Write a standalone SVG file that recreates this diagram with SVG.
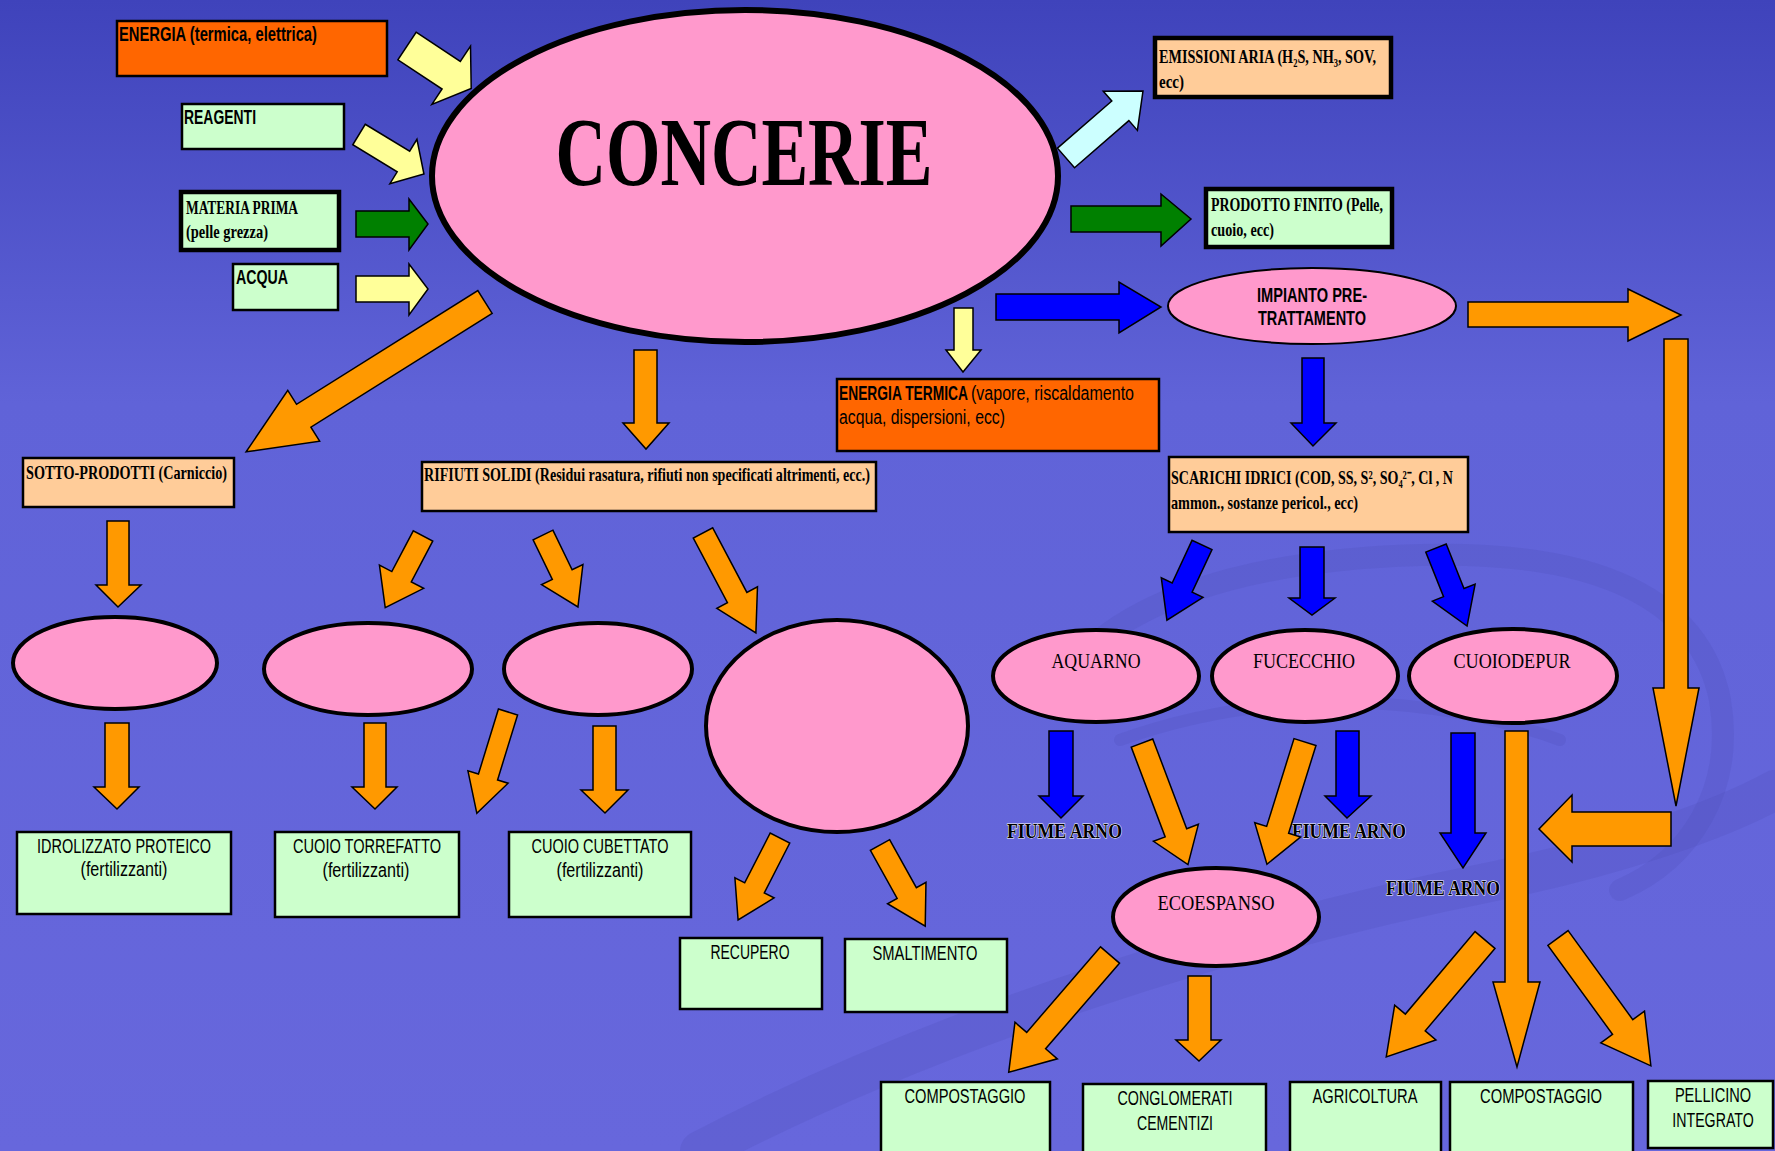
<svg xmlns="http://www.w3.org/2000/svg" width="1775" height="1151" viewBox="0 0 1775 1151">
<defs>
<linearGradient id="bg" x1="0" y1="0" x2="0" y2="1">
<stop offset="0" stop-color="#3f43bb"/>
<stop offset="0.35" stop-color="#6063d8"/>
<stop offset="1" stop-color="#6767dc"/>
</linearGradient>
</defs>
<style>
.box{stroke:#000;stroke-width:2.5}
.thick{stroke-width:4.5}
.green{fill:#ccffcc}
.peach{fill:#ffcc99}
.red{fill:#ff6600}
.ell{fill:#ff99cc;stroke:#000;stroke-width:4}
.arr{stroke:#000;stroke-width:1.5;stroke-linejoin:miter}
.o{fill:#ff9900}
.b{fill:#0000ff}
.y{fill:#ffff99}
.g{fill:#008000}
.c{fill:#ccffff}
.sans{font-family:"Liberation Sans",Arial,sans-serif;font-size:20px;fill:#000}
.serif{font-family:"Liberation Serif","Times New Roman",serif;font-size:19px;font-weight:bold;fill:#000}
.eser{font-family:"Liberation Serif","Times New Roman",serif;font-size:22px;fill:#000}
.fiume{font-family:"Liberation Serif","Times New Roman",serif;font-size:20px;font-weight:bold;fill:#000;stroke:#fff;stroke-width:1;paint-order:stroke}
.bold{font-weight:bold}
.mid{text-anchor:middle}
</style>
<rect x="0" y="0" width="1775" height="1151" fill="url(#bg)"/>
<g id="background-swooshes" fill="none" stroke="#4d4db8" stroke-opacity="0.22" stroke-linecap="round">
<path d="M1050,700 C1100,600 1250,560 1420,555 C1600,550 1700,600 1720,700 C1735,790 1690,860 1620,890" stroke-width="22"/>
<path d="M1120,740 C1260,690 1420,690 1560,740" stroke-width="12"/>
<path d="M700,1151 C950,1020 1250,930 1500,880 C1620,855 1720,820 1775,790" stroke-width="40"/>
</g>

<g id="node-concerie"><ellipse cx="745" cy="176" rx="313" ry="166" fill="#ff99cc" stroke="#000" stroke-width="6"/><text x="744" y="185" class="mid" font-family="Liberation Serif, Times New Roman, serif" font-weight="bold" font-size="98" textLength="377" lengthAdjust="spacingAndGlyphs">CONCERIE</text></g>

<g id="node-energia"><rect class="box red" x="117" y="21" width="270" height="55"/><text class="sans bold" x="119" y="41" textLength="198" lengthAdjust="spacingAndGlyphs">ENERGIA (termica, elettrica)</text></g>
<g id="node-reagenti"><rect class="box green" x="182" y="104" width="162" height="45"/><text class="sans bold" x="184" y="124" textLength="72" lengthAdjust="spacingAndGlyphs">REAGENTI</text></g>
<g id="node-materia"><rect class="box thick green" x="181" y="192" width="158" height="58"/><text class="serif" x="186" y="214" textLength="112" lengthAdjust="spacingAndGlyphs">MATERIA PRIMA</text><text class="serif" x="186" y="238" textLength="82" lengthAdjust="spacingAndGlyphs">(pelle grezza)</text></g>
<g id="node-acqua"><rect class="box green" x="233" y="264" width="105" height="46"/><text class="sans bold" x="236" y="284" textLength="52" lengthAdjust="spacingAndGlyphs">ACQUA</text></g>

<g id="node-emissioni"><rect class="box thick peach" x="1155" y="38" width="236" height="59"/><text class="serif" x="1159" y="63" textLength="217" lengthAdjust="spacingAndGlyphs">EMISSIONI ARIA (H₂S, NH₃, SOV,</text><text class="serif" x="1159" y="88" textLength="25" lengthAdjust="spacingAndGlyphs">ecc)</text></g>
<g id="node-prodotto"><rect class="box thick green" x="1206" y="189" width="186" height="58"/><text class="serif" x="1211" y="211" textLength="172" lengthAdjust="spacingAndGlyphs">PRODOTTO FINITO (Pelle,</text><text class="serif" x="1211" y="236" textLength="63" lengthAdjust="spacingAndGlyphs">cuoio, ecc)</text></g>
<g id="node-impianto"><ellipse cx="1312" cy="306" rx="144" ry="38" fill="#ff99cc" stroke="#000" stroke-width="2"/><text class="sans bold mid" x="1312" y="302" textLength="110" lengthAdjust="spacingAndGlyphs">IMPIANTO PRE-</text><text class="sans bold mid" x="1312" y="325" textLength="108" lengthAdjust="spacingAndGlyphs">TRATTAMENTO</text></g>
<g id="node-energia-termica"><rect class="box red" x="837" y="379" width="322" height="72"/><text class="sans bold" transform="translate(839,400) scale(0.69,1)" x="0" y="0">ENERGIA TERMICA</text><text class="sans" x="971" y="400" textLength="163" lengthAdjust="spacingAndGlyphs">(vapore, riscaldamento</text><text class="sans" x="839" y="424" textLength="166" lengthAdjust="spacingAndGlyphs">acqua, dispersioni, ecc)</text></g>
<g id="node-scarichi"><rect class="box peach" x="1169" y="457" width="299" height="75"/><text class="serif" x="1171" y="484" textLength="282" lengthAdjust="spacingAndGlyphs">SCARICHI IDRICI (COD, SS, S², SO₄²⁻, Cl , N</text><text class="serif" x="1171" y="509" textLength="187" lengthAdjust="spacingAndGlyphs">ammon., sostanze pericol., ecc)</text></g>

<g id="node-sotto"><rect class="box peach" x="23" y="458" width="211" height="49"/><text class="serif" x="26" y="479" textLength="201" lengthAdjust="spacingAndGlyphs">SOTTO-PRODOTTI (Carniccio)</text></g>
<g id="node-rifiuti"><rect class="box peach" x="422" y="462" width="454" height="49"/><text class="serif" x="424" y="481" textLength="446" lengthAdjust="spacingAndGlyphs">RIFIUTI SOLIDI (Residui rasatura, rifiuti non specificati altrimenti, ecc.)</text></g>

<g id="node-e1"><ellipse class="ell" cx="115" cy="663" rx="102" ry="46"/></g>
<g id="node-e2"><ellipse class="ell" cx="368" cy="669" rx="104" ry="46"/></g>
<g id="node-e3"><ellipse class="ell" cx="598" cy="669" rx="94" ry="46"/></g>
<g id="node-e4"><ellipse class="ell" cx="837" cy="726" rx="131" ry="106"/></g>

<g id="node-idrolizzato"><rect class="box green" x="17" y="832" width="214" height="82"/><text class="sans mid" x="124" y="853" textLength="174" lengthAdjust="spacingAndGlyphs">IDROLIZZATO PROTEICO</text><text class="sans mid" x="124" y="876" textLength="87" lengthAdjust="spacingAndGlyphs">(fertilizzanti)</text></g>
<g id="node-torrefatto"><rect class="box green" x="275" y="832" width="184" height="85"/><text class="sans mid" x="367" y="853" textLength="148" lengthAdjust="spacingAndGlyphs">CUOIO TORREFATTO</text><text class="sans mid" x="366" y="877" textLength="87" lengthAdjust="spacingAndGlyphs">(fertilizzanti)</text></g>
<g id="node-cubettato"><rect class="box green" x="509" y="832" width="182" height="85"/><text class="sans mid" x="600" y="853" textLength="137" lengthAdjust="spacingAndGlyphs">CUOIO CUBETTATO</text><text class="sans mid" x="600" y="877" textLength="87" lengthAdjust="spacingAndGlyphs">(fertilizzanti)</text></g>
<g id="node-recupero"><rect class="box green" x="680" y="938" width="142" height="71"/><text class="sans mid" x="750" y="959" textLength="79" lengthAdjust="spacingAndGlyphs">RECUPERO</text></g>
<g id="node-smaltimento"><rect class="box green" x="845" y="939" width="162" height="73"/><text class="sans mid" x="925" y="960" textLength="105" lengthAdjust="spacingAndGlyphs">SMALTIMENTO</text></g>

<g id="node-aquarno"><ellipse class="ell" cx="1096" cy="676" rx="103" ry="46"/><text class="eser mid" x="1096" y="668" textLength="89" lengthAdjust="spacingAndGlyphs">AQUARNO</text></g>
<g id="node-fucecchio"><ellipse class="ell" cx="1305" cy="676" rx="93" ry="46"/><text class="eser mid" x="1304" y="668" textLength="102" lengthAdjust="spacingAndGlyphs">FUCECCHIO</text></g>
<g id="node-cuoiodepur"><ellipse class="ell" cx="1513" cy="676" rx="104" ry="47"/><text class="eser mid" x="1512" y="668" textLength="117" lengthAdjust="spacingAndGlyphs">CUOIODEPUR</text></g>
<g id="node-ecoespanso"><ellipse class="ell" cx="1216" cy="917" rx="103" ry="49"/><text class="eser mid" x="1216" y="910" textLength="117" lengthAdjust="spacingAndGlyphs">ECOESPANSO</text></g>

<g id="label-fiume1"><text class="fiume" x="1007" y="838" textLength="115" lengthAdjust="spacingAndGlyphs">FIUME ARNO</text></g>
<g id="label-fiume2"><text class="fiume" x="1292" y="838" textLength="114" lengthAdjust="spacingAndGlyphs">FIUME ARNO</text></g>
<g id="label-fiume3"><text class="fiume" x="1386" y="895" textLength="114" lengthAdjust="spacingAndGlyphs">FIUME ARNO</text></g>

<g id="node-compostaggio1"><rect class="box green" x="881" y="1082" width="169" height="90"/><text class="sans mid" x="965" y="1103" textLength="121" lengthAdjust="spacingAndGlyphs">COMPOSTAGGIO</text></g>
<g id="node-conglomerati"><rect class="box green" x="1083" y="1084" width="183" height="90"/><text class="sans mid" x="1175" y="1105" textLength="115" lengthAdjust="spacingAndGlyphs">CONGLOMERATI</text><text class="sans mid" x="1175" y="1130" textLength="76" lengthAdjust="spacingAndGlyphs">CEMENTIZI</text></g>
<g id="node-agricoltura"><rect class="box green" x="1290" y="1082" width="151" height="90"/><text class="sans mid" x="1365" y="1103" textLength="105" lengthAdjust="spacingAndGlyphs">AGRICOLTURA</text></g>
<g id="node-compostaggio2"><rect class="box green" x="1450" y="1082" width="183" height="90"/><text class="sans mid" x="1541" y="1103" textLength="122" lengthAdjust="spacingAndGlyphs">COMPOSTAGGIO</text></g>
<g id="node-pellicino"><rect class="box green" x="1648" y="1081" width="125" height="67"/><text class="sans mid" transform="translate(1713,1102) scale(0.73,1)" x="0" y="0">PELLICINO</text><text class="sans mid" transform="translate(1713,1127) scale(0.71,1)" x="0" y="0">INTEGRATO</text></g>

<g id="connectors">
<polygon class="arr y" transform="translate(407,46) rotate(33.5)" points="0,-16.5 53,-16.5 53,-35 77,0 53,35 53,16.5 0,16.5"/>
<polygon class="arr y" transform="translate(359,134.5) rotate(31.3)" points="0,-12 52,-12 52,-26 76,0 52,26 52,12 0,12"/>
<polygon class="arr g" points="356,211 409,211 409,199 428,224 409,250 409,237 356,237"/>
<polygon class="arr y" points="356,276 409,276 409,264 428,289 409,315 409,302 356,302"/>
<polygon class="arr c" transform="translate(1066,158) rotate(-41)" points="0,-13 72,-13 72,-26 102,0 72,26 72,13 0,13"/>
<polygon class="arr g" points="1071,206 1161,206 1161,194 1191,219 1161,246 1161,232 1071,232"/>
<polygon class="arr b" points="996,294 1119,294 1119,282 1161,307 1119,333 1119,320 996,320"/>
<polygon class="arr y" points="954,308 973,308 973,350 981,350 963,372 946,350 954,350"/>
<polygon class="arr o" points="1468,302 1628,302 1628,289 1681,315 1628,341 1628,327 1468,327"/>
<polygon class="arr o" points="1664,339 1688,339 1688,688 1699,688 1676,806 1653,688 1664,688"/>
<polygon class="arr o" points="1671,812 1671,846 1572,846 1572,862 1539,829 1572,795 1572,812"/>
<polygon class="arr b" points="1302,358 1324,358 1324,423 1336,423 1313,446 1291,423 1302,423"/>
<polygon class="arr b" transform="translate(1202,545) rotate(115)" points="0,-11 47,-11 47,-23 83,0 47,23 47,11 0,11"/>
<polygon class="arr b" points="1300,547 1324,547 1324,598 1335,598 1312,615 1289,598 1300,598"/>
<polygon class="arr b" transform="translate(1436,548) rotate(68.3)" points="0,-11 48,-11 48,-23 84,0 48,23 48,11 0,11"/>
<polygon class="arr b" points="1049,731 1073,731 1073,796 1083,796 1061,818 1039,796 1049,796"/>
<polygon class="arr b" points="1336,731 1359,731 1359,796 1371,796 1347,818 1325,796 1336,796"/>
<polygon class="arr b" points="1451,733 1475,733 1475,833 1486,833 1463,868 1440,833 1451,833"/>
<polygon class="arr o" transform="translate(1142,743) rotate(69.3)" points="0,-11.5 96,-11.5 96,-24 130,0 96,24 96,11.5 0,11.5"/>
<polygon class="arr o" transform="translate(1305,742) rotate(107.3)" points="0,-11.5 92,-11.5 92,-24 128,0 92,24 92,11.5 0,11.5"/>
<polygon class="arr o" transform="translate(1110,955) rotate(130.8)" points="0,-12.5 113,-12.5 113,-28 155,0 113,28 113,12.5 0,12.5"/>
<polygon class="arr o" points="1188,976 1211,976 1211,1040 1221,1040 1199,1061 1176,1040 1188,1040"/>
<polygon class="arr o" points="1505,731 1528,731 1528,982 1540,982 1517,1067 1493,982 1505,982"/>
<polygon class="arr o" transform="translate(1485,940) rotate(130.2)" points="0,-13 108,-13 108,-27 153,0 108,27 108,13 0,13"/>
<polygon class="arr o" transform="translate(1558,938) rotate(54)" points="0,-12.5 110,-12.5 110,-27 158,0 110,27 110,12.5 0,12.5"/>
<polygon class="arr o" transform="translate(485,302) rotate(147.9)" points="0,-13.5 214,-13.5 214,-30 282,0 214,30 214,13.5 0,13.5"/>
<polygon class="arr o" points="634,350 657,350 657,423 669,423 646,449 623,423 634,423"/>
<polygon class="arr o" points="107,521 129,521 129,585 141,585 118,607 96,585 107,585"/>
<polygon class="arr o" transform="translate(423,536) rotate(117.8)" points="0,-11 46,-11 46,-25 81,0 46,25 46,11 0,11"/>
<polygon class="arr o" transform="translate(543,535) rotate(64.1)" points="0,-11 44,-11 44,-23 80,0 44,23 44,11 0,11"/>
<polygon class="arr o" transform="translate(703,533) rotate(62.1)" points="0,-11 73,-11 73,-23 113,0 73,23 73,11 0,11"/>
<polygon class="arr o" points="105,723 129,723 129,787 139,787 117,809 94,787 105,787"/>
<polygon class="arr o" points="364,723 386,723 386,787 397,787 375,809 352,787 364,787"/>
<polygon class="arr o" points="593,726 616,726 616,790 628,790 605,813 581,790 593,790"/>
<polygon class="arr o" transform="translate(508,712) rotate(107.1)" points="0,-10 68,-10 68,-21 106,0 68,21 68,10 0,10"/>
<polygon class="arr o" transform="translate(780,838) rotate(117.1)" points="0,-11 56,-11 56,-22 92,0 56,22 56,11 0,11"/>
<polygon class="arr o" transform="translate(880,845) rotate(60.9)" points="0,-11 55,-11 55,-22 93,0 55,22 55,11 0,11"/>
</g>
</svg>
